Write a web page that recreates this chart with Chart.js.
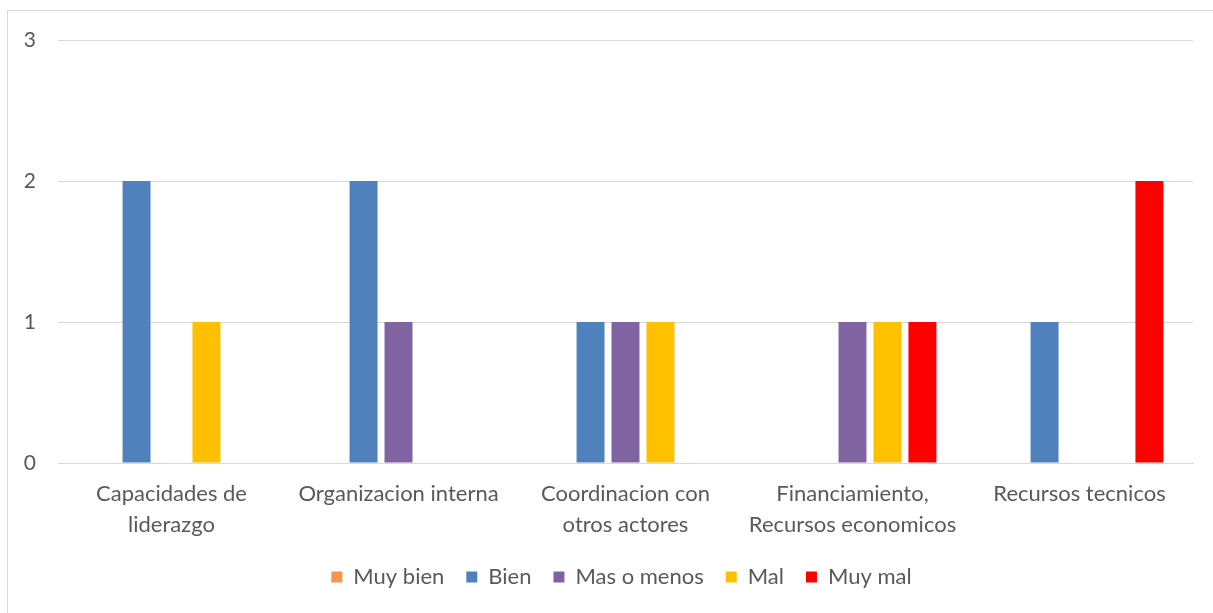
<!DOCTYPE html>
<html>
<head>
<meta charset="utf-8">
<script src="https://cdn.jsdelivr.net/npm/chart.js@4/dist/chart.umd.min.js"></script>
<style>
  html, body { margin: 0; padding: 0; background: #fff; overflow: hidden; }
  #frame {
    position: absolute; left: 7px; top: 10px; width: 1230px; height: 640px;
    border: 1px solid #d9d9d9; box-sizing: border-box;
  }
  #wrap { position: absolute; left: 0; top: 0; width: 1213px; height: 613px; }
</style>
</head>
<body>
<div id="frame"></div>
<div id="wrap"><canvas id="chart"></canvas></div>
<script>
const categories = [
  ["Capacidades de", "liderazgo"],
  "Organizacion interna",
  ["Coordinacion con", "otros actores"],
  ["Financiamiento,", "Recursos economicos"],
  "Recursos tecnicos"
];
const seriesNames = ["Muy bien", "Bien", "Mas o menos", "Mal", "Muy mal"];
const seriesColors = ["#F79646", "#4F81BD", "#8064A2", "#FFC000", "#FF0000"];
const muyBien = [0, 0, 0, 0, 0];
const bien = [2, 2, 1, 0, 1];
const masOMenos = [0, 1, 1, 1, 0];
const mal = [1, 0, 1, 1, 0];
const muyMal = [0, 0, 0, 1, 2];
const yTicks = [0, 1, 2, 3];

const seriesValues = [muyBien, bien, masOMenos, mal, muyMal];
const FONT = "Lato, 'Open Sans', sans-serif";

// the legend in the original sits a bit right of centre
const legendShift = {
  id: "legendShift",
  afterLayout(chart) {
    if (chart.legend) {
      chart.legend.left += 25;
      chart.legend.right += 25;
    }
  }
};

new Chart(document.getElementById("chart"), {
  type: "bar",
  data: {
    labels: categories,
    datasets: seriesNames.map((name, i) => ({
      label: name,
      data: seriesValues[i],
      backgroundColor: seriesColors[i],
      borderWidth: 0,
      barPercentage: 0.8,
      categoryPercentage: 0.77
    }))
  },
  plugins: [legendShift],
  options: {
    responsive: true,
    maintainAspectRatio: false,
    animation: false,
    layout: { padding: { top: 40, right: 20, left: 0, bottom: 15 } },
    plugins: {
      tooltip: { enabled: false },
      legend: {
        position: "bottom",
        labels: {
          boxWidth: 11,
          boxHeight: 11,
          padding: 22,
          color: "#595959",
          font: { family: FONT, size: 22 }
        }
      }
    },
    scales: {
      x: {
        clip: false,
        afterFit: (scale) => { scale.height = 81; },
        grid: { display: false, drawTicks: false },
        border: { display: true, color: "#d9d9d9", width: 1 },
        ticks: {
          color: "#595959",
          font: { family: FONT, size: 22, lineHeight: 1.4 },
          maxRotation: 0,
          autoSkip: false,
          padding: 16
        }
      },
      y: {
        min: 0,
        max: 3,
        afterBuildTicks: (scale) => { scale.ticks = yTicks.map(v => ({ value: v })); },
        afterFit: (scale) => { scale.width = 58; },
        grid: { color: "#d9d9d9", lineWidth: 1, drawTicks: false },
        border: { display: false },
        ticks: {
          color: "#595959",
          font: { family: FONT, size: 21 },
          padding: 22
        }
      }
    }
  }
});
</script>
</body>
</html>
